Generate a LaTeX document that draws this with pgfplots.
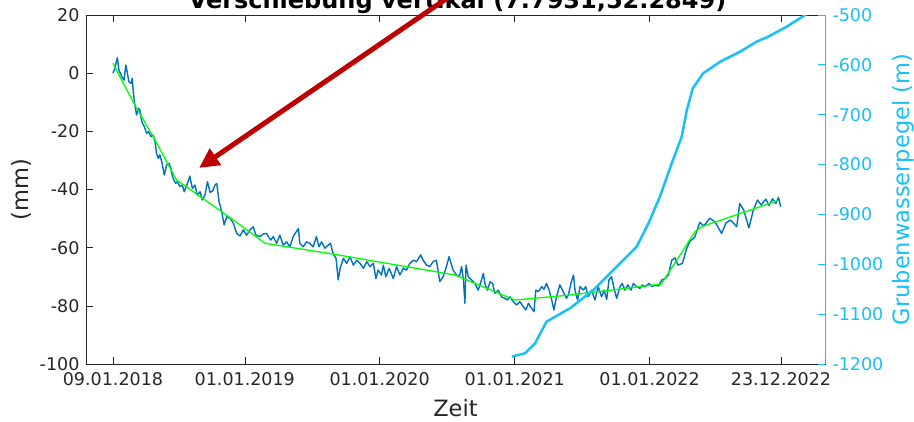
\documentclass[border=0pt]{standalone}
\usepackage{pgfplots}
\pgfplotsset{compat=1.18}
\usepackage{fontspec}
\setmainfont{DejaVu Sans}
\usetikzlibrary{arrows.meta}
\definecolor{mblue}{rgb}{0,0.447,0.741}
\definecolor{mgreen}{rgb}{0,1,0}
\definecolor{mcyan}{rgb}{0.1,0.75,0.97}
\definecolor{mgray}{rgb}{0.15,0.15,0.15}
\definecolor{ared}{rgb}{0.75,0,0}

\pgfplotstableread{
d v
0 0
5 1.7
12 5.3
16 1.1
24 -1.2
30 -2.4
35 2.8
40 -0.6
43 -2.9
49 -3.5
52 -1.8
56 -7.5
60 -11.5
64 -14.4
69 -12.1
73 -12.7
78 -16.7
85 -18.4
91 -20.7
96 -20.1
103 -21.8
109 -21.3
114 -23.6
118 -27.6
123 -29.3
127 -28.1
132 -30.4
139 -35
145 -31.6
152 -31
157 -32.7
159 -34.4
163 -36.2
170 -37.9
175 -37.3
181 -39
188 -38.5
193 -40.8
200 -38.5
208 -35.4
215 -39.6
222 -38.5
228 -41.9
236 -40.8
242 -43.6
249 -42
256 -37.3
263 -41
270 -40.5
276 -38.5
281 -37.9
287 -44
294 -47.3
301 -52.2
308 -49.4
317 -49.9
326 -51.6
335 -55.1
344 -56
353 -53.9
362 -55.7
371 -53.9
380 -52.8
387 -55.7
398 -56.2
407 -55.3
416 -55.1
427 -57.4
434 -56.2
443 -58.5
452 -55.7
461 -59.1
470 -58
479 -59.7
488 -56.2
502 -53.4
506 -58.5
515 -59.7
524 -58
533 -58.5
542 -59.7
551 -56.2
558 -59.7
565 -58
574 -60.2
583 -59.1
589 -58.5
596 -62
604 -63.7
610 -71.1
615 -67.1
624 -63.7
633 -65.4
642 -63.1
651 -66
660 -64.3
669 -65.4
678 -67.1
687 -64.8
696 -66.5
705 -65.4
712 -70.6
718 -67.7
727 -69.4
732 -66
739 -70
748 -67.1
759 -70.6
768 -66.5
777 -69.4
786 -67.1
795 -67.7
804 -65.4
813 -64.3
822 -64.8
833 -62.5
840 -64.3
849 -66
858 -66.5
867 -64.8
876 -64.3
885 -71.7
894 -70
903 -66.5
910 -63.1
921 -67.7
930 -69.4
938 -70
944 -66.5
949 -71.1
953 -79.1
956 -66
962 -70
971 -71.1
980 -72.3
989 -74.6
998 -71.1
1003 -68.8
1007 -72.3
1014 -74.6
1021 -71.7
1028 -72.3
1034 -75.7
1043 -74.6
1052 -76.9
1061 -77.4
1068 -78
1075 -76.9
1084 -78.6
1093 -79.7
1102 -78.6
1111 -80.3
1118 -81.4
1125 -79.1
1134 -80.9
1140 -82
1145 -74.6
1152 -75.1
1161 -73.4
1167 -74.3
1174 -72.3
1181 -74.6
1188 -78
1194 -81.4
1201 -76.9
1210 -72.8
1219 -75.1
1228 -77.4
1233 -76.3
1240 -72.3
1247 -69.4
1251 -74.6
1258 -78
1265 -73.4
1274 -74.6
1280 -73.4
1287 -76.9
1296 -74.6
1305 -78
1314 -73.4
1323 -76.9
1330 -74.6
1337 -77.8
1343 -71.1
1350 -70
1358 -74.6
1364 -77.4
1373 -73.4
1379 -72.3
1386 -74.6
1394 -72.8
1403 -74.6
1409 -72.3
1418 -73.4
1427 -74
1433 -72.8
1442 -73.4
1451 -72.3
1460 -73.4
1468 -72.8
1477 -73.2
1486 -71.1
1495 -70.6
1504 -69.4
1513 -64.3
1522 -63.5
1530 -66
1542 -65.4
1553 -60.5
1562 -57.8
1575 -56.5
1589 -51.3
1600 -52.5
1616 -49.9
1630 -51.1
1648 -55.1
1660 -51.5
1672 -50.5
1680 -51.5
1689 -52.8
1697 -44.8
1708 -47.1
1722 -53.2
1734 -47.1
1745 -43.6
1755 -45.3
1768 -43.3
1776 -45.5
1786 -43.2
1795 -44.8
1802 -42.7
1808 -45.9
}\blue

\pgfplotstableread{
d v
0 3.4
59 -10.9
114 -23
172 -36.7
294 -47.6
326 -50.5
412 -58.5
600 -62.3
926 -69.4
1088 -78
1237 -76.3
1485 -72.5
1576 -54.5
1594 -52.8
1801 -43.8
}\green

\pgfplotstableread{
d v
1080 -1185
1116 -1178.5
1143 -1158.5
1174 -1115
1238 -1088
1301 -1051.5
1355 -1011.4
1418 -964.7
1450 -917.8
1481 -864.4
1513 -797.4
1540 -744
1554 -690.5
1570 -647
1598 -617
1644 -593.7
1698 -573.6
1743 -553.5
1774 -543.5
1824 -523.5
1874 -500
1900 -488
}\cyanline

\begin{document}
\begin{tikzpicture}
\pgfplotsset{
  common/.style={
    scale only axis, width=739pt, height=349pt,
    at={(0pt,0pt)}, anchor=south west,
    xmin=-73, xmax=1928,
    tick align=inside, major tick length=7pt,
    tick label style={font=\fontsize{17.5}{20}\selectfont},
  }
}
\begin{axis}[common,
  ymin=-100, ymax=20,
  axis line style={mgray, line width=0.6pt},
  tick style={mgray, line width=0.6pt},
  xtick pos=both, xticklabel pos=bottom,
  ytick pos=left,
  xtick={0,357,722,1088,1453,1809},
  xticklabels={09.01.2018,01.01.2019,01.01.2020,01.01.2021,01.01.2022,23.12.2022},
  ytick={-100,-80,-60,-40,-20,0,20},
  yticklabels={-100,-80,-60,-40,-20,0,20},
  ticklabel style={text=mgray},
  xticklabel style={yshift=-5pt},
  yticklabel style={xshift=-3pt},
  xlabel={Zeit}, ylabel={(mm)},
  every axis x label/.style={at={(axis description cs:0.5,-0.127)}, anchor=center, font=\fontsize{22.5}{26}\selectfont, text=mgray},
  every axis y label/.style={at={(axis description cs:-0.088,0.5)}, anchor=center, rotate=90, font=\fontsize{22.5}{26}\selectfont, text=mgray},
]
\addplot[mblue, line width=1.4pt, line join=round] table[x=d,y=v] {\blue};
\addplot[mgreen, line width=1.3pt, line join=round] table[x=d,y=v] {\green};
\end{axis}
\begin{axis}[common,
  ymin=-1200, ymax=-500,
  axis x line=none,
  axis y line*=right,
  y axis line style={mcyan, line width=0.8pt},
  ytick style={mcyan, line width=0.8pt},
  ytick={-1200,-1100,-1000,-900,-800,-700,-600,-500},
  yticklabels={-1200,-1100,-1000,-900,-800,-700,-600,-500},
  yticklabel style={text=mcyan, xshift=4pt},
  ylabel={Grubenwasserpegel (m)},
  every axis y label/.style={at={(axis description cs:1.1056,0.5)}, anchor=center, rotate=90, font=\fontsize{22.5}{26}\selectfont, text=mcyan},
]
\addplot[mcyan, line width=2.5pt, line join=round] table[x=d,y=v] {\cyanline};
\end{axis}
\node[font=\bfseries\fontsize{24}{28}\selectfont, text=black, anchor=base] at (371.5pt,355pt) {Verschiebung vertikal (7.7931,52.2849)};
\draw[ared, line width=5pt, -{Triangle[length=20pt,width=19pt]}] (376pt,376pt) -- (113pt,196pt);
\pgfresetboundingbox
\path[use as bounding box] (-86pt,-57pt) rectangle (828pt,364pt);
\end{tikzpicture}
\end{document}
